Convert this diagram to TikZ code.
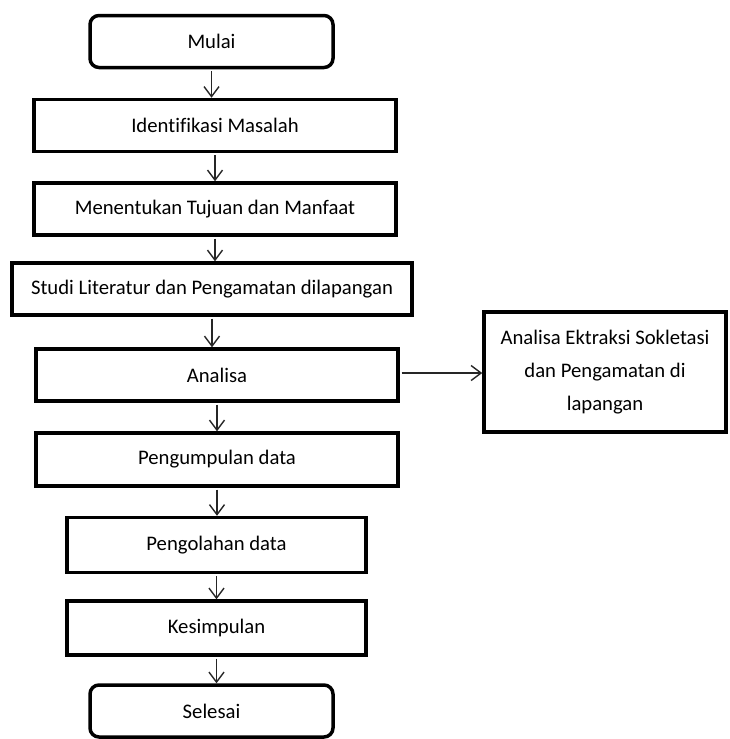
\documentclass[tikz,border=0pt]{standalone}
\usepackage{fontspec}
\setmainfont[Ligatures=NoCommon]{Carlito}
\usepackage{tikz}
\usetikzlibrary{calc,positioning,arrows.meta,shapes}
\tikzset{
	>={Straight Barb[length=10pt,width=15pt]},
	proses/.style={
		rectangle,
		draw=black, line width=3.5pt,
		inner sep=0pt,
		minimum width=362pt,
		minimum height=52pt,
		text centered
	},
	terminal/.style={
		proses,
		rounded corners=9pt,
		minimum width=243pt
	},
	pendek/.style={proses, minimum width=299pt, minimum height=55pt},
	line/.style={draw, line width=1.4pt, black!85, ->},
	font={\fontsize{20.7pt}{33pt}\selectfont},
}
\begin{document}
\begin{tikzpicture}[x=1pt,y=-1pt]
	\useasboundingbox (0,0) rectangle (730,739);
	\node[terminal] (mulai) at (211.5,41.5) {Mulai};
	\node[proses] (identifikasi) at (215,125.5) {Identifikasi Masalah};
	\node[proses] (tujuan) at (215,209) {Menentukan Tujuan dan Manfaat};
	\node[proses, minimum width=400pt] (studi) at (212,289) {Studi Literatur dan Pengamatan dilapangan};
	\node[proses] (analisa) at (217,375) {Analisa};
	\node[proses, minimum height=53pt] (pengumpulan) at (217,459.5) {Pengumpulan data};
	\node[pendek] (pengolahan) at (216.5,545) {Pengolahan data};
	\node[pendek, minimum height=54pt] (kesimpulan) at (216.5,628) {Kesimpulan};
	\node[terminal] (selesai) at (211.5,711) {Selesai};
	\node[proses, minimum width=242pt, minimum height=120pt, align=center] (ekstraksi) at (605,372)
		{Analisa Ektraksi Sokletasi\\dan Pengamatan di\\lapangan};
	\foreach \from/\to in {mulai/identifikasi,identifikasi/tujuan,tujuan/studi,studi/analisa,
		analisa/pengumpulan,pengumpulan/pengolahan,pengolahan/kesimpulan,kesimpulan/selesai}
		\draw[line] ($(\from.south)+(0,1.75)$) -- (\from.south |- \to.north);
	\draw[line] ($(analisa.east)+(1.75,-2)$) -- ($(analisa.east -| ekstraksi.west)+(0,-2)$);
\end{tikzpicture}
\end{document}
